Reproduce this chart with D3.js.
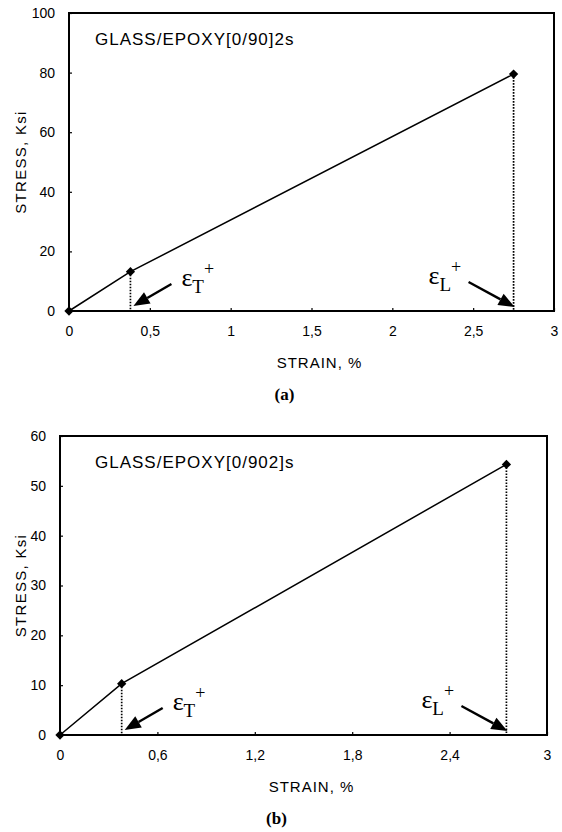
<!DOCTYPE html>
<html>
<head>
<meta charset="utf-8">
<script src="https://cdn.jsdelivr.net/npm/d3@7"></script>
<style>
  body { margin: 0; background: #fff; }
  svg { display: block; }
  text { font-family: "Liberation Sans", Arial, sans-serif; fill: #000; }
  .eps { font-family: "Liberation Serif", "Times New Roman", serif; }
</style>
</head>
<body>
<div id="chart"></div>
<script>
// stress-strain curves of two glass/epoxy cross-ply laminates
const strainA = [0, 0.38, 2.75];
const stressA = [0, 13.2, 79.5];
const xTicksA = [0, 0.5, 1, 1.5, 2, 2.5, 3];
const yTicksA = [0, 20, 40, 60, 80, 100];

const strainB = [0, 0.38, 2.75];
const stressB = [0, 10.3, 54.3];
const xTicksB = [0, 0.6, 1.2, 1.8, 2.4, 3];
const yTicksB = [0, 10, 20, 30, 40, 50, 60];

const titles = ["GLASS/EPOXY[0/90]2s", "GLASS/EPOXY[0/902]s"];
const captions = ["(a)", "(b)"];

const svg = d3.select("#chart").append("svg")
    .attr("width", 562)
    .attr("height", 832);

var panels = [
    {strain: strainA, stress: stressA, xTicks: xTicksA, yTicks: yTicksA, yMax: 100,
     left: 69, top: 13, width: 485, height: 298, title: titles[0], caption: captions[0]},
    {strain: strainB, stress: stressB, xTicks: xTicksB, yTicks: yTicksB, yMax: 60,
     left: 60, top: 436, width: 487, height: 299, title: titles[1], caption: captions[1]}
];

// comma as decimal mark, like the original
var fmt = function(d) { return String(d).replace(".", ","); };

panels.forEach(function(p) {
    var g = svg.append("g").attr("transform", "translate(" + p.left + "," + p.top + ")");
    var x = d3.scaleLinear().domain([0, 3]).range([0, p.width]);
    var y = d3.scaleLinear().domain([0, p.yMax]).range([p.height, 0]);

    // axes with inward ticks
    var xAxis = g.append("g").attr("transform", "translate(0," + p.height + ")")
        .call(d3.axisBottom(x).tickValues(p.xTicks).tickFormat(fmt).tickSizeInner(-3).tickSizeOuter(0).tickPadding(15));
    var yAxis = g.append("g")
        .call(d3.axisLeft(y).tickValues(p.yTicks).tickSizeInner(-3).tickSizeOuter(0).tickPadding(14));
    [xAxis, yAxis].forEach(function(a) {
        a.select(".domain").remove();
        a.selectAll("line").attr("stroke", "#000").attr("stroke-width", 1.2);
        a.selectAll("text").attr("font-size", 14).attr("fill", "#000")
            .style("font-family", "'Liberation Sans', Arial, sans-serif");
    });

    // frame
    g.append("rect")
        .attr("width", p.width).attr("height", p.height)
        .attr("fill", "none").attr("stroke", "#000").attr("stroke-width", 2);

    var pts = p.strain.map(function(s, i) { return [s, p.stress[i]]; });

    // dotted drop lines from the break points
    g.selectAll(".drop").data(pts.slice(1)).enter().append("line")
        .attr("x1", function(d) { return x(d[0]); })
        .attr("x2", function(d) { return x(d[0]); })
        .attr("y1", function(d) { return y(d[1]); })
        .attr("y2", y(0))
        .attr("stroke", "#000").attr("stroke-width", 1.7)
        .attr("stroke-dasharray", "1.6,1.4");

    g.append("path").datum(pts)
        .attr("fill", "none").attr("stroke", "#000").attr("stroke-width", 1.5)
        .attr("d", d3.line().x(function(d) { return x(d[0]); }).y(function(d) { return y(d[1]); }));

    g.selectAll(".pt").data(pts).enter().append("path")
        .attr("transform", function(d) { return "translate(" + x(d[0]) + "," + y(d[1]) + ")"; })
        .attr("d", d3.symbol().type(d3.symbolDiamond2).size(55))
        .attr("fill", "#000");

    g.append("text").attr("x", 95 - p.left).attr("y", 45 - 13)
        .attr("font-size", 17).attr("letter-spacing", 1)
        .text(p.title);

    g.append("text")
        .attr("x", p.width / 2 + 8).attr("y", p.height + 57)
        .attr("text-anchor", "middle").attr("font-size", 15).attr("letter-spacing", 1)
        .text("STRAIN, %");

    g.append("text")
        .attr("transform", "translate(" + (26 - p.left) + "," + (p.height / 2) + ") rotate(-90)")
        .attr("text-anchor", "middle").attr("font-size", 15).attr("letter-spacing", 1.3)
        .text("STRESS, Ksi");

    g.append("text")
        .attr("x", p.width / 2 - 27).attr("y", p.height + 89)
        .attr("text-anchor", "middle").attr("font-size", 17).attr("font-weight", "bold")
        .style("font-family", "'Liberation Serif', 'Times New Roman', serif")
        .text(p.caption);

    // arrows pointing at the transverse and longitudinal failure strains
    var notes = [
        {pt: pts[1], tip: [3, -5], tail: [41, -27], sub: "T", side: 1},
        {pt: pts[2], tip: [1, -4], tail: [-45, -29], sub: "L", side: -1}
    ];
    notes.forEach(function(n) {
        var tx = x(n.pt[0]) + n.tip[0], ty = y(0) + n.tip[1];
        var sx = x(n.pt[0]) + n.tail[0], sy = y(0) + n.tail[1];
        var ang = Math.atan2(ty - sy, tx - sx);
        var L = 16, W = 6.5;
        var bx = tx - L * Math.cos(ang), by = ty - L * Math.sin(ang);
        g.append("line").attr("x1", sx).attr("y1", sy).attr("x2", bx).attr("y2", by)
            .attr("stroke", "#000").attr("stroke-width", 2.4);
        g.append("path")
            .attr("d", "M" + tx + "," + ty +
                "L" + (bx + W * Math.sin(ang)) + "," + (by - W * Math.cos(ang)) +
                "L" + (bx - W * Math.sin(ang)) + "," + (by + W * Math.cos(ang)) + "Z")
            .attr("fill", "#000");
        var lx = n.side > 0 ? sx + 10 : sx - 40;
        var ly = sy + 2;
        var t = g.append("text").attr("class", "eps").attr("x", lx).attr("y", ly).attr("font-size", 26);
        t.append("tspan").text("\u03B5");
        t.append("tspan").attr("dy", 7).attr("font-size", 19).text(n.sub);
        t.append("tspan").attr("dy", -18).attr("font-size", 18).text("+");
    });
});
</script>
</body>
</html>
